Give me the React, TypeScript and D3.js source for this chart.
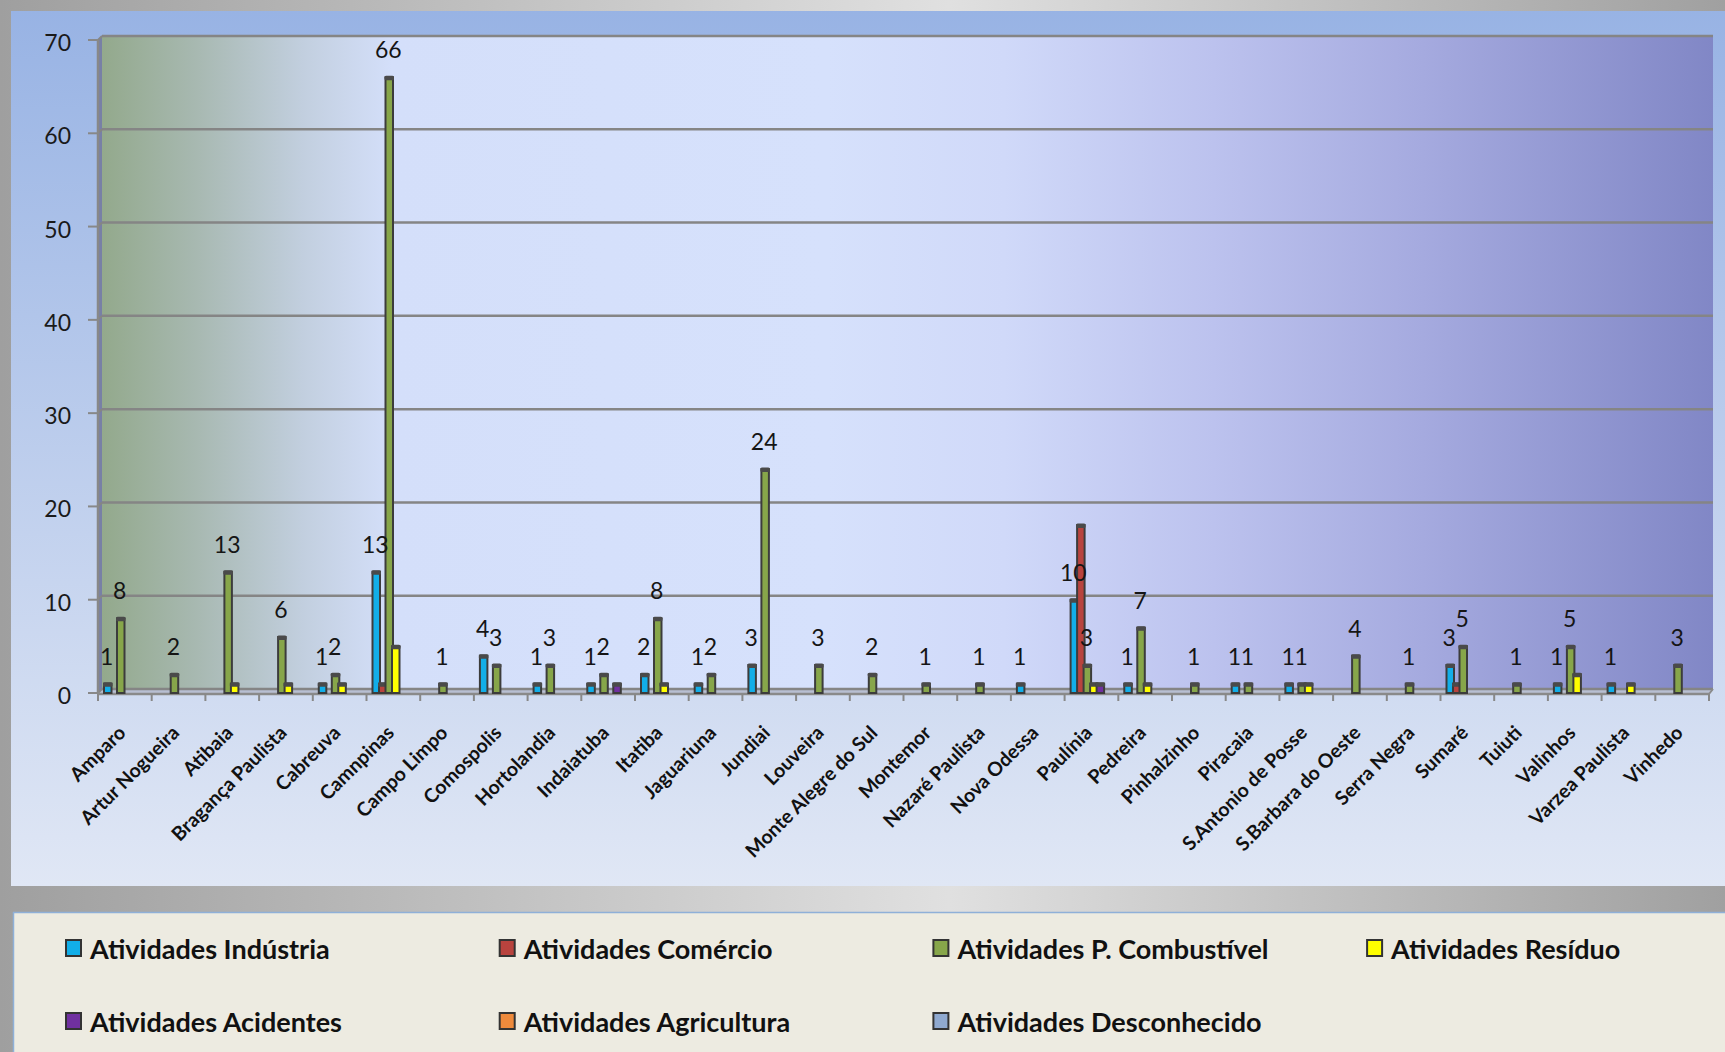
import React from 'react';
import * as d3 from 'd3';

const categories = [
  'Amparo', 'Artur Nogueira', 'Atibaia', 'Bragança Paulista', 'Cabreuva', 'Camnpinas',
  'Campo Limpo', 'Comospolis', 'Hortolandia', 'Indaiatuba', 'Itatiba', 'Jaguariuna',
  'Jundiai', 'Louveira', 'Monte Alegre do Sul', 'Montemor', 'Nazaré Paulista', 'Nova Odessa',
  'Paulínia', 'Pedreira', 'Pinhalzinho', 'Piracaia', 'S.Antonio de Posse', 'S.Barbara do Oeste',
  'Serra Negra', 'Sumaré', 'Tuiuti', 'Valinhos', 'Varzea Paulista', 'Vinhedo',
];

const industria = [1, 0, 0, 0, 1, 13, 0, 4, 1, 1, 2, 1, 3, 0, 0, 0, 0, 1, 10, 1, 0, 1, 1, 0, 0, 3, 0, 1, 1, 0];
const comercio = [0, 0, 0, 0, 0, 1, 0, 0, 0, 0, 0, 0, 0, 0, 0, 0, 0, 0, 18, 0, 0, 0, 0, 0, 0, 1, 0, 0, 0, 0];
const combustivel = [8, 2, 13, 6, 2, 66, 1, 3, 3, 2, 8, 2, 24, 3, 2, 1, 1, 0, 3, 7, 1, 1, 1, 4, 1, 5, 1, 5, 0, 3];
const residuo = [0, 0, 1, 1, 1, 5, 0, 0, 0, 0, 1, 0, 0, 0, 0, 0, 0, 0, 1, 1, 0, 0, 1, 0, 0, 0, 0, 2, 1, 0];
const acidentes = [0, 0, 0, 0, 0, 0, 0, 0, 0, 1, 0, 0, 0, 0, 0, 0, 0, 0, 1, 0, 0, 0, 0, 0, 0, 0, 0, 0, 0, 0];
const agricultura = [0, 0, 0, 0, 0, 0, 0, 0, 0, 0, 0, 0, 0, 0, 0, 0, 0, 0, 0, 0, 0, 0, 0, 0, 0, 0, 0, 0, 0, 0];
const desconhecido = [0, 0, 0, 0, 0, 0, 0, 0, 0, 0, 0, 0, 0, 0, 0, 0, 0, 0, 0, 0, 0, 0, 0, 0, 0, 0, 0, 0, 0, 0];

const seriesNames = [
  'Atividades Indústria', 'Atividades Comércio', 'Atividades P. Combustível', 'Atividades Resíduo',
  'Atividades Acidentes', 'Atividades Agricultura', 'Atividades Desconhecido',
];
const seriesValues = [industria, comercio, combustivel, residuo, acidentes, agricultura, desconhecido];
const seriesColors = ['#12aee8', '#b8433e', '#87a64a', '#ffff00', '#7030a0', '#ee8a3c', '#8fa9d0'];
const labeledSeries = [true, false, true, false, false, false, false];
const yTicks = [0, 10, 20, 30, 40, 50, 60, 70];

const FONT = 'Lato, "Open Sans", sans-serif';

export default function App() {
  const W = 1725;
  const H = 1052;
  const x = d3.scaleBand<string>().domain(categories).range([98, 1709]).padding(0);
  const inner = d3.scaleBand<string>().domain(seriesNames).range([6.5, 52]).padding(0);
  const y = d3.scaleLinear().domain([0, 70]).range([693, 40]);
  const step = x.step();
  const barW = 7.5;
  const depth = 4;
  const wallL = 98 + depth;
  const wallR = 1709 + depth;

  return (
    <svg width={W} height={H} style={{ position: 'absolute', left: 0, top: 0 }} fontFamily={FONT}>
      <defs>
        <linearGradient id="bgG" x1="0" x2="1" y1="0" y2="0">
          <stop offset="0" stopColor="#9f9f9f" />
          <stop offset="0.55" stopColor="#e0e0e0" />
          <stop offset="1" stopColor="#a0a0a0" />
        </linearGradient>
        <linearGradient id="panelG" x1="0" x2="0" y1="0" y2="1">
          <stop offset="0" stopColor="#98b3e4" />
          <stop offset="1" stopColor="#e0e7f5" />
        </linearGradient>
        <linearGradient id="wallG" x1="0" x2="1" y1="0" y2="0">
          <stop offset="0" stopColor="#93a98c" />
          <stop offset="0.06" stopColor="#a8b9b2" />
          <stop offset="0.125" stopColor="#c2cfdf" />
          <stop offset="0.18" stopColor="#d4dffa" />
          <stop offset="0.45" stopColor="#d6e1fc" />
          <stop offset="0.56" stopColor="#d0d9f9" />
          <stop offset="0.69" stopColor="#bcc2ee" />
          <stop offset="0.82" stopColor="#a5aadf" />
          <stop offset="1" stopColor="#8187c6" />
        </linearGradient>
      </defs>

      <rect x={0} y={0} width={W} height={H} fill="url(#bgG)" />
      <rect x={11} y={11} width={W - 11} height={875} fill="url(#panelG)" />

      {/* back wall */}
      <rect x={wallL} y={y(70) - depth} width={wallR - wallL} height={y(0) - y(70)} fill="url(#wallG)" />
      {/* side wall */}
      <polygon
        points={`98,${y(70)} ${wallL},${y(70) - depth} ${wallL},${y(0) - depth} 98,${y(0)}`}
        fill="#7880a6"
      />
      {/* floor */}
      <polygon
        points={`98,${y(0)} 1709,${y(0)} ${wallR},${y(0) - depth} ${wallL},${y(0) - depth}`}
        fill="#b8bfd2"
      />

      {/* gridlines */}
      {yTicks.map((v) => (
        <g key={'g' + v}>
          <line x1={wallL} x2={wallR} y1={y(v) - depth} y2={y(v) - depth} stroke="#858585" strokeWidth={2.5} />
          <line x1={98} x2={wallL} y1={y(v)} y2={y(v) - depth} stroke="#858585" strokeWidth={2} />
        </g>
      ))}

      {/* axes */}
      <line x1={98} x2={98} y1={y(70)} y2={y(0) + 1} stroke="#888" strokeWidth={2.5} />
      <line x1={98} x2={1709} y1={y(0) + 1} y2={y(0) + 1} stroke="#8a8a8a" strokeWidth={2.5} />
      <line x1={1709} x2={wallR} y1={y(0) + 1} y2={y(0) - depth} stroke="#8a8a8a" strokeWidth={2} />
      {yTicks.map((v) => (
        <g key={'t' + v}>
          <line x1={88} x2={98} y1={y(v)} y2={y(v)} stroke="#888" strokeWidth={2} />
          <text x={71} y={y(v) + 2} textAnchor="end" dominantBaseline="central" fontSize={23} fill="#1a1a1a">
            {v}
          </text>
        </g>
      ))}
      {d3.range(categories.length + 1).map((i) => (
        <line key={'ct' + i} x1={98 + i * step} x2={98 + i * step} y1={y(0) + 1} y2={y(0) + 8} stroke="#888" strokeWidth={2} />
      ))}

      {/* bars */}
      {seriesNames.map((s, si) => (
        <g key={s}>
          {categories.map((c, ci) => {
            const v = seriesValues[si][ci];
            if (!v) return null;
            const cx = (x(c) as number) + (inner(s) as number) + inner.bandwidth() / 2;
            const top = y(v);
            return (
              <g key={c}>
                <rect x={cx - barW / 2} y={top} width={barW} height={y(0) - top} fill={seriesColors[si]} stroke="#3c3c3c" strokeWidth={2} />
                <rect x={cx - barW / 2 - 1} y={top - 1.5} width={barW + 2} height={4.5} rx={1.5} fill="#4a4a4a" />
              </g>
            );
          })}
        </g>
      ))}

      {/* data labels */}
      {seriesNames.map((s, si) =>
        labeledSeries[si]
          ? categories.map((c, ci) => {
              const v = seriesValues[si][ci];
              if (!v) return null;
              const cx = (x(c) as number) + (inner(s) as number) + inner.bandwidth() / 2;
              return (
                <text key={s + c} x={cx - 1} y={y(v) - 28} textAnchor="middle" dominantBaseline="central" fontSize={23} fill="#151515">
                  {v}
                </text>
              );
            })
          : null
      )}

      {/* category labels */}
      {categories.map((c) => {
        const cx = (x(c) as number) + step / 2 + 2;
        return (
          <text key={'l' + c} transform={`translate(${cx},734) rotate(-45)`} textAnchor="end" fontSize={19.5} fontWeight="bold" fill="#111">
            {c}
          </text>
        );
      })}

      {/* legend */}
      <rect x={13} y={912} width={W - 13} height={H - 912} fill="#edebe1" />
      <line x1={13} x2={W} y1={912.5} y2={912.5} stroke="#8fb0d8" strokeWidth={1.5} />
      <line x1={13.5} x2={13.5} y1={912} y2={H} stroke="#8fb0d8" strokeWidth={1.5} />
      {seriesNames.map((s, i) => {
        const lx = 66 + (i % 4) * 433.7;
        const ly = 948 + Math.floor(i / 4) * 73;
        return (
          <g key={'lg' + s}>
            <rect x={lx} y={ly - 8} width={15} height={16} fill={seriesColors[i]} stroke="#333" strokeWidth={2} />
            <text x={lx + 24} y={ly} dominantBaseline="central" fontSize={27} fontWeight="bold" fill="#111">
              {s}
            </text>
          </g>
        );
      })}
    </svg>
  );
}
